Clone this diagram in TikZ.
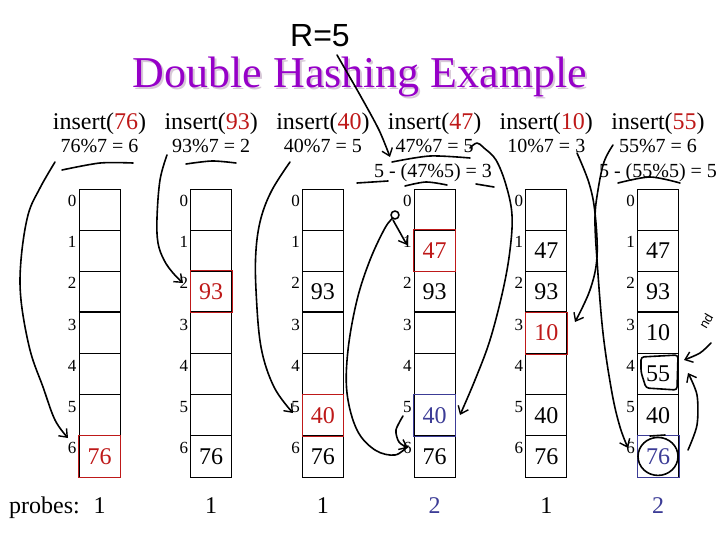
\documentclass[tikz,border=0pt]{standalone}
\usepackage{fontspec}
\setmainfont{Liberation Serif}
\newfontfamily\handfont{Liberation Sans}
\usetikzlibrary{arrows.meta,calc,positioning}

\definecolor{hred}{RGB}{190,25,25}
\definecolor{hblue}{RGB}{60,60,150}
\definecolor{titlepurple}{RGB}{150,0,200}
\definecolor{titleshadow}{RGB}{215,200,215}

\tikzset{
  cell/.style={draw, minimum width=41pt, minimum height=41.14pt, inner sep=0pt, line width=0.8pt},
  val/.style={font=\fontsize{24}{28}\selectfont, inner sep=0pt},
  idx/.style={font=\fontsize{17}{19}\selectfont, inner sep=0pt, anchor=base east},
  ins/.style={font=\fontsize{24}{28}\selectfont, inner sep=0pt, anchor=base},
  calc/.style={font=\fontsize{20}{24}\selectfont, inner sep=0pt, anchor=base},
  hand/.style={line width=1.6pt, line cap=round, line join=round},
  barb/.style={-{Straight Barb[length=7pt,width=11pt,line width=1.4pt]}}
}

\begin{document}
\begin{tikzpicture}[x=1pt, y=-1pt]
\useasboundingbox (0,0) rectangle (720,540);

% title
\node[font=\fontsize{44}{50}\selectfont, text=titleshadow, anchor=base, inner sep=0pt] at (362,90) {Double Hashing Example};
\node[font=\fontsize{44}{50}\selectfont, text=titlepurple, anchor=base, inner sep=0pt] (title) at (360,88) {Double Hashing Example};
\node[font=\handfont\fontsize{32}{36}\selectfont, anchor=base, inner sep=0pt] (rfive) at (320,47) {R=5};

% the six tables
\foreach \t in {1,...,6} {
  \foreach \i in {0,...,6} {
    \node[cell] (t\t-\i) at ({99.5+111.7*(\t-1)}, {209.57+41.14*\i}) {};
    \node[idx] (l\t-\i) at ($(t\t-\i.north west)+(-2,18)$) {\i};
  }
  \draw[line width=1.5pt] (t\t-3.north west) -- (t\t-3.north east);
}

% inserts and hash values
\foreach \t/\k in {1/76, 2/93, 3/40, 4/47, 5/10, 6/55}
  \node[ins] (ins\t) at ({99.5+111.7*(\t-1)}, 130) {insert(\textcolor{hred}{\k})};
\foreach \t/\s in {1/{76\%7 = 6}, 2/{93\%7 = 2}, 3/{40\%7 = 5}, 4/{47\%7 = 5}, 5/{10\%7 = 3}, 6/{55\%7 = 6}}
  \node[calc] (h\t) at ({99.5+111.7*(\t-1)}, 153) {\s};
\node[calc] (hh4) at (433,178) {5 - (47\%5) = 3};
\node[calc] (hh6) at (658,178) {5 - (55\%5) = 5};

% contents
\foreach \t/\i/\v/\c in {1/6/76/hred, 2/2/93/hred, 2/6/76/black,
    3/2/93/black, 3/5/40/hred, 3/6/76/black,
    4/1/47/hred, 4/2/93/black, 4/5/40/hblue, 4/6/76/black,
    5/1/47/black, 5/2/93/black, 5/3/10/hred, 5/5/40/black, 5/6/76/black,
    6/1/47/black, 6/2/93/black, 6/3/10/black, 6/4/55/black, 6/5/40/black, 6/6/76/hblue}
  \node[val, text=\c] (v\t-\i) at (t\t-\i) {\v};
\foreach \t/\i/\c in {1/6/hred, 2/2/hred, 3/5/hred, 4/1/hred, 4/5/hblue, 5/3/hred, 6/6/hblue}
  \draw[\c, line width=0.8pt] (t\t-\i.north west) rectangle (t\t-\i.south east);

% probes
\node[font=\fontsize{24}{28}\selectfont, anchor=base west, inner sep=0pt] (probes) at (9,513) {probes:};
\foreach \t/\p/\c in {1/1/black, 2/1/black, 3/1/black, 4/2/hblue, 5/1/black, 6/2/hblue}
  \node[val, anchor=base, text=\c] (p\t) at ({99.5+111.7*(\t-1)}, 513) {\p};

% handwriting
\draw[hand, barb] plot[smooth, tension=0.6] coordinates {(55,162) (40,188) (28,215) (21,260) (21,300) (30,350) (43,387) (55,420) (68,438)};
\draw[hand] plot[smooth] coordinates {(62,170) (100,163) (133,163)};
\draw[hand, barb] plot[smooth, tension=0.6] coordinates {(167,155) (160,180) (157,218) (158,243) (164,260) (173,273) (183,283)};
\draw[hand] plot[smooth] coordinates {(186,164) (212,161) (236,163)};
\draw[hand, barb] plot[smooth, tension=0.6] coordinates {(290,162) (272,190) (261,218) (256,250) (256,290) (261,347) (274,387) (293,413)};
\draw[hand, barb] plot[smooth] coordinates {(337,55) (360,95) (379,130) (390,157)};
\draw[hand] plot[smooth] coordinates {(392,162) (430,156) (470,158)};
\draw[hand] (357,183) -- (388,181);
\draw[hand] plot[smooth] coordinates {(405,186) (426,182) (447,185)};
\draw[hand] (476,184) -- (494,187);
\draw[hand, barb] plot[smooth, tension=0.6] coordinates {(470,148) (477,143) (484,148) (496,160) (506,185) (512,215) (510,250) (503,290) (490,340) (475,380) (460,415)};
\draw[hand] plot[smooth, tension=0.6] coordinates {(408,446) (395,455) (375,450) (357,430) (347,393) (348,350) (357,300) (370,260) (385,228) (393,218)};
\draw[hand] (395,215) circle[radius=4];
\draw[hand, barb] (393,220) -- (407,245);
\draw[hand, barb] plot[smooth] coordinates {(403,416) (396,430) (399,442) (408,448)};
\draw[hand, barb] plot[smooth, tension=0.6] coordinates {(577,153) (589,183) (595,213) (597,257) (590,290) (575,322)};
\draw[hand, barb] plot[smooth, tension=0.6] coordinates {(613,145) (604,162) (598,190) (595,218) (597,260) (603,333) (612,393) (620,427) (628,448)};
\draw[hand] plot[smooth] coordinates {(618,183) (650,177) (680,183)};
\draw[hand] (v6-6) ellipse[x radius=20, y radius=19];
\draw[hand] (650,436) -- (665,435);
\draw[hand, rounded corners=3pt] (641,357) -- (678,355) -- (677,390) -- (646,388) -- (641,372) -- cycle;
\draw[hand, barb] plot[smooth] coordinates {(688,450) (697,425) (697,395) (688,373)};
\node[font=\handfont\fontsize{13}{14}\selectfont, rotate=60, inner sep=0pt] (nd) at (706,321) {nd};
\draw[hand, barb] plot[smooth] coordinates {(711,343) (700,353) (684,360)};
\end{tikzpicture}
\end{document}
